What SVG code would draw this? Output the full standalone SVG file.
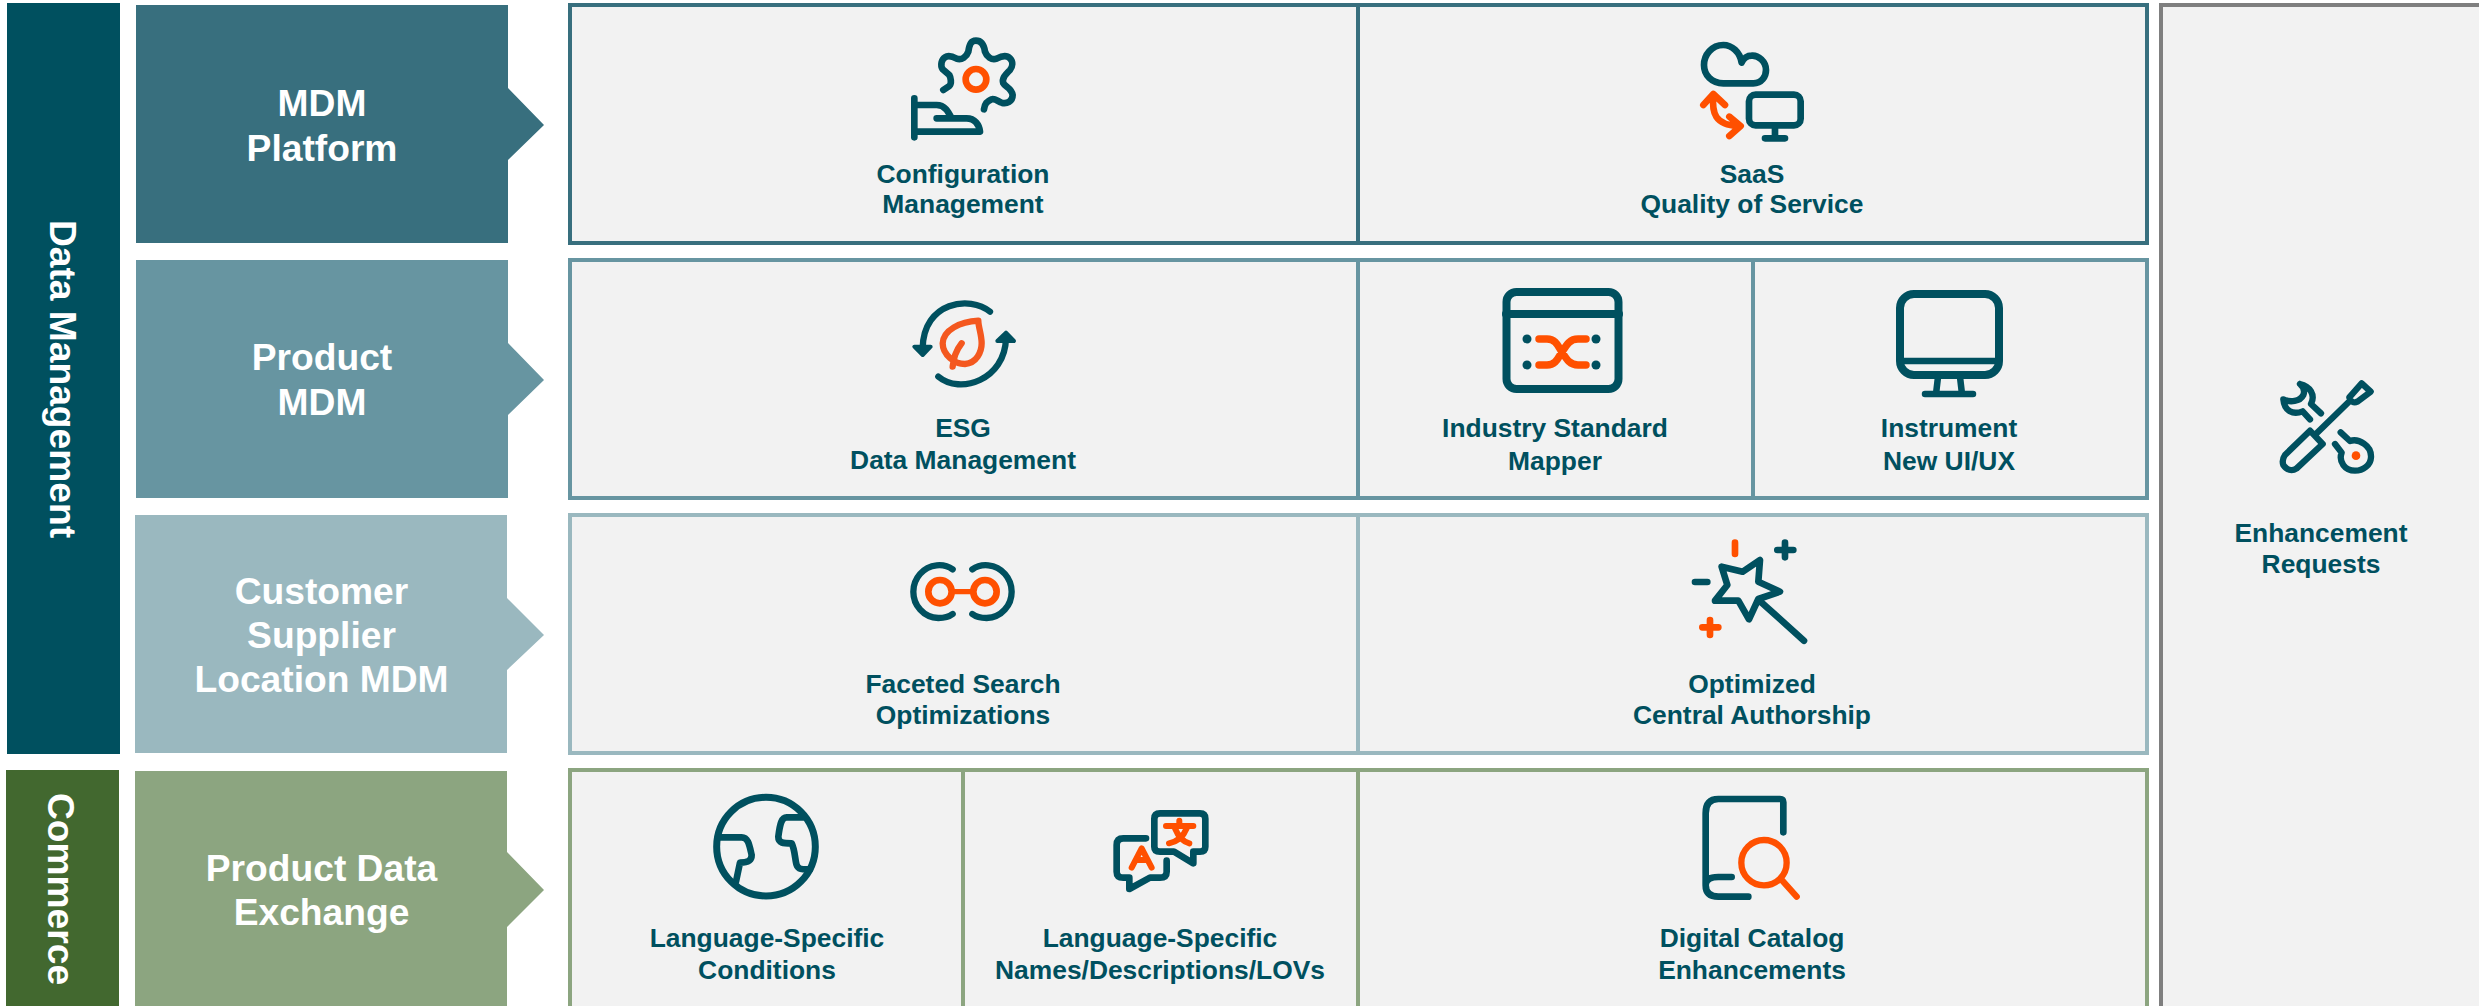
<svg xmlns="http://www.w3.org/2000/svg" width="2479" height="1006" viewBox="0 0 2479 1006">
<style>
text{font-family:"Liberation Sans",Arial,sans-serif;font-weight:700;text-anchor:middle}
.h{font-size:37.2px;fill:#fff}
.l{font-size:26.4px;fill:#00505f}
.cell{fill:#f2f2f2;stroke-width:4}
.t,.o{fill:none;stroke-linecap:round;stroke-linejoin:round}
.t{stroke:#00505f}
.o{stroke:#ff5000}
</style>
<rect width="2479" height="1006" fill="#fff"/>
<g id="group-data-management"><rect x="7" y="3" width="113" height="751" fill="#00505f"/><text class="h" transform="translate(50 379) rotate(90)">Data Management</text></g>
<g id="group-commerce"><rect x="6" y="770" width="113" height="236" fill="#42682f"/><text class="h" transform="translate(48 889) rotate(90)">Commerce</text></g>
<g id="chevron-mdm-platform"><path d="M136 5H508V88L544 125L508 160V243H136Z" fill="#386f7e"/><text class="h" x="322" y="116">MDM</text><text class="h" x="322" y="161">Platform</text></g>
<g id="chevron-product-mdm"><path d="M136 260H508V343L544 380L508 415V498H136Z" fill="#6795a1"/><text class="h" x="322" y="370">Product</text><text class="h" x="322" y="415">MDM</text></g>
<g id="chevron-customer"><path d="M135 515H507V598L544 635L507 670V753H135Z" fill="#9ab8bf"/><text class="h" x="321.500" y="604">Customer</text><text class="h" x="321.500" y="648">Supplier</text><text class="h" x="321.500" y="692">Location MDM</text></g>
<g id="chevron-pdx"><path d="M135 771H507V852L544 890L507 927V1006H135Z" fill="#8ca580"/><text class="h" x="321.500" y="881">Product Data</text><text class="h" x="321.500" y="925">Exchange</text></g>

<g id="enhancement-requests">
<rect class="cell" x="2161" y="5" width="400" height="1100" stroke="#7f7f7f"/>
<g transform="translate(2250 370) scale(.3333)">
<path class="t" stroke-width="19" d="M150 42C180 48 197 75 183 102L213 130M180 148L158 124C130 135 103 125 100 88C120 98 150 95 160 75C165 62 160 50 150 42M298 82L335 40L362 65L322 95C312 100 300 95 298 82ZM300 92L200 190M180 182L218 222L140 295C125 305 110 300 100 285C95 270 100 262 105 255ZM272 187L300 213C325 205 365 225 363 262C362 285 340 302 315 302C285 302 265 275 275 248L255 222"/>
<circle cx="318" cy="257" r="13" fill="#ff5000"/></g>
<text class="l" x="2321" y="542">Enhancement</text><text class="l" x="2321" y="573">Requests</text></g>

<g id="configuration-management">
<rect class="cell" x="570" y="5" width="788" height="238" stroke="#386f7e"/>
<g transform="translate(860 20) scale(.3333)">
<path class="t" stroke-width="20" d="M250 210L268 198C276 190 272 172 268 165L248 148C240 135 245 118 255 112C265 105 275 108 290 116C305 122 320 110 325 95C328 75 332 62 348 62C365 62 372 75 375 95C380 110 395 122 410 116C425 108 440 105 450 115C460 125 458 140 450 150C435 165 425 175 430 190C435 200 455 205 458 225C458 245 440 252 425 248C415 245 405 235 395 238C380 245 375 250 372 268M163 235V352M163 255H230C255 255 265 275 275 295M230 295H320C345 295 358 315 360 335H163"/>
<circle class="o" cx="348" cy="178" r="31" stroke-width="20"/></g>
<text class="l" x="963" y="183">Configuration</text><text class="l" x="963" y="213">Management</text></g>

<g id="saas-qos">
<rect class="cell" x="1358" y="5" width="789" height="238" stroke="#386f7e"/>
<g transform="translate(1660 20) scale(.3333)">
<path class="t" stroke-width="20" d="M190 190H280C305 190 318 170 318 150C318 125 295 105 275 107C262 107 250 115 245 128C240 95 215 75 190 75C155 75 132 105 132 135C132 165 155 190 190 190ZM345 316V355M315 355H375"/>
<rect class="t" stroke-width="20" x="267" y="224" width="155" height="92" rx="20"/>
<path class="o" stroke-width="20" d="M130 255L160 222L195 255M160 225C155 280 165 315 235 318M208 290L242 318L208 348"/></g>
<text class="l" x="1752" y="183">SaaS</text><text class="l" x="1752" y="213">Quality of Service</text></g>

<g id="esg-data-management">
<rect class="cell" x="570" y="260" width="788" height="238" stroke="#6795a1"/>
<g transform="translate(880 280) scale(.3333)">
<path class="t" stroke-width="19" d="M330 95C270 45 130 65 128 205M175 290C240 345 375 300 378 175"/>
<path d="M103 200H152L128 225ZM352 183L378 158L402 183Z" fill="#00505f" stroke="#00505f" stroke-width="12" stroke-linejoin="round"/>
<path class="o" style="stroke:#f4581f" stroke-width="19" d="M295 122C240 125 190 150 188 190C188 225 225 252 255 252C290 250 305 215 305 190C305 165 295 140 295 122ZM218 260C222 235 225 215 245 190"/></g>
<text class="l" x="963" y="437">ESG</text><text class="l" x="963" y="469">Data Management</text></g>

<g id="industry-standard-mapper">
<rect class="cell" x="1358" y="260" width="395" height="238" stroke="#6795a1"/>
<rect class="t" stroke-width="8" x="1506.500" y="292" width="112" height="97" rx="10"/>
<path class="t" stroke-width="8" d="M1506 314H1619"/>
<g fill="#00505f"><circle cx="1527" cy="339" r="4.500"/><circle cx="1596" cy="339" r="4.500"/><circle cx="1527" cy="365" r="4.500"/><circle cx="1596" cy="365" r="4.500"/></g>
<path class="o" stroke-width="7.500" d="M1539 339H1547C1556 339 1558 346 1562 352C1567 360 1570 365 1578 365H1586M1586 339H1578C1570 339 1567 344 1562 352C1558 358 1556 365 1547 365H1539"/>
<text class="l" x="1555" y="437">Industry Standard</text><text class="l" x="1555" y="470">Mapper</text></g>

<g id="instrument-new-ui">
<rect class="cell" x="1753" y="260" width="394" height="238" stroke="#6795a1"/>
<rect class="t" stroke-width="8" x="1900" y="294" width="99" height="81" rx="14"/>
<path class="t" stroke-width="6.500" d="M1901 361H1998M1938 377L1936 394M1960 377L1962 394M1925 394H1973"/>
<text class="l" x="1949" y="437">Instrument</text><text class="l" x="1949" y="470">New UI/UX</text></g>

<g id="faceted-search">
<rect class="cell" x="570" y="515" width="788" height="238" stroke="#9ab8bf"/>
<g transform="translate(890 540) scale(.3333)">
<path class="t" stroke-width="19" d="M188 88C170 75 150 75 140 76C100 80 70 115 70 155C70 195 100 233 145 234C160 234 175 232 188 222M247 88C265 75 285 75 295 76C335 80 365 115 365 155C365 195 335 233 290 234C275 234 260 232 247 222"/>
<circle class="o" cx="150" cy="155" r="35" stroke-width="20"/><circle class="o" cx="285" cy="155" r="35" stroke-width="20"/>
<path class="o" stroke-width="16" stroke-linecap="butt" d="M190 155H245"/></g>
<text class="l" x="963" y="693">Faceted Search</text><text class="l" x="963" y="724">Optimizations</text></g>

<g id="optimized-central-authorship">
<rect class="cell" x="1358" y="515" width="789" height="238" stroke="#9ab8bf"/>
<g transform="translate(1670 530) scale(.3333)">
<path class="o" stroke-width="20" d="M195 38V72M97 292H145M120 270V315"/>
<path class="t" stroke-width="20" d="M322 60H370M345 38V82M75 156H112M155 110L218 125L270 90L265 155L330 185L265 207L237 268L205 212L135 212L172 165ZM272 215L402 332"/></g>
<text class="l" x="1752" y="693">Optimized</text><text class="l" x="1752" y="724">Central Authorship</text></g>

<g id="language-conditions">
<rect class="cell" x="570" y="770" width="393" height="330" stroke="#8ca580"/>
<g transform="translate(700 780) scale(.3333)">
<circle class="t" cx="198" cy="200" r="148" stroke-width="21"/>
<path class="t" stroke-width="20" d="M60 172H125C145 172 148 195 155 225C155 245 140 248 120 248L108 305M310 112H260C245 112 240 130 235 170C235 190 250 190 275 190C285 210 285 240 290 255C295 270 310 268 330 268"/></g>
<text class="l" x="767" y="947">Language-Specific</text><text class="l" x="767" y="979">Conditions</text></g>

<g id="language-names">
<rect class="cell" x="963" y="770" width="395" height="330" stroke="#8ca580"/>
<g transform="translate(1100 800) scale(.3333)">
<path class="t" stroke-width="20" d="M180 40H300Q316 40 316 56V140Q316 155 300 155H280V190L222 155H180Q163 155 163 140V56Q163 40 180 40ZM138 115H70Q50 115 50 135V215Q50 233 70 233H88V267L150 233H180Q200 233 200 215V182"/>
<path class="o" stroke-width="18" d="M95 203L125 145L155 203M108 180H142M198 78H280M238 62V78M225 85C235 110 250 125 268 130M260 85C250 110 230 125 207 130"/></g>
<text class="l" x="1160" y="947">Language-Specific</text><text class="l" x="1160" y="979">Names/Descriptions/LOVs</text></g>

<g id="digital-catalog">
<rect class="cell" x="1358" y="770" width="789" height="330" stroke="#8ca580"/>
<g transform="translate(1690 785) scale(.3333)">
<path class="t" stroke-width="20" d="M280 142V52Q280 42 270 42H85Q47 42 47 85V300Q47 335 85 335H175M125 276H85Q47 276 47 300"/>
<circle class="o" cx="222" cy="233" r="68" stroke-width="19"/>
<path class="o" stroke-width="19" d="M275 285L320 335"/></g>
<text class="l" x="1752" y="947">Digital Catalog</text><text class="l" x="1752" y="979">Enhancements</text></g>
</svg>
